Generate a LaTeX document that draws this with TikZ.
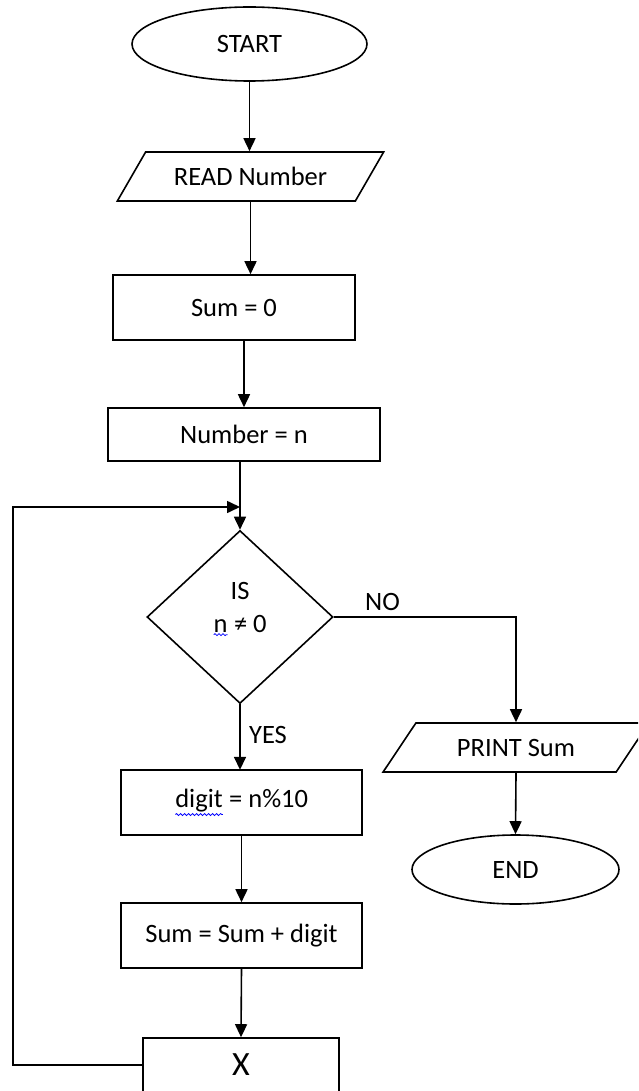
\documentclass[tikz,border=0pt]{standalone}
\usepackage{fontspec}
\setmainfont{Carlito}
\usetikzlibrary{shapes.geometric,arrows.meta,decorations.pathmorphing}

% wavy spell-check mark under a word
\newcommand\spellwave[1]{\tikz[baseline=(sw.base)]{\node[shape=rectangle,draw=none,minimum size=0pt,inner sep=0pt,outer sep=0pt] (sw) {#1};
  \draw[blue, line width=0.8pt, decorate, decoration={snake, amplitude=1pt, segment length=4pt}]
    ([yshift=-2.5pt]sw.south west) -- ([yshift=-2.5pt]sw.south east);}}

\begin{document}
\begin{tikzpicture}[x=1pt,y=-1pt,line width=1.6pt,
    term/.style={draw,ellipse,inner sep=0pt},
    io/.style={draw,trapezium,trapezium left angle=42,trapezium right angle=138,trapezium stretches=true,inner sep=0pt},
    proc/.style={draw,rectangle,inner sep=0pt},
    dec/.style={draw,diamond,inner sep=0pt},
    arr/.style={-{Triangle[length=13pt,width=12pt]}},
    font=\fontsize{26.5}{33}\selectfont]
                \clip (0,0) rectangle (638,1091);
                \node [term, minimum width=235pt, minimum height=74pt] (start) at (249.5,44) {START};
                \node [io, minimum width=267pt, minimum height=49pt] (read) at (250.5,176.5) {READ Number};
                \node [proc, minimum width=242pt, minimum height=65pt] (sum0) at (234,307.5) {Sum = 0};
                \node [proc, minimum width=272pt, minimum height=53pt] (number) at (244,434.5) {Number = n};
                \node [dec, minimum width=186pt, minimum height=173pt] (isnz) at (240,617) {};
                \node [align=center] (isnztext) at ([yshift=8pt]isnz.center) {IS\\\spellwave{n} ≠ 0};
                \node [io, minimum width=266pt, minimum height=49pt] (print) at (516,747.5) {PRINT Sum};
                \node [term, minimum width=207pt, minimum height=69pt] (stop) at (515.5,869.5) {END};
                \node [proc, minimum width=241pt, minimum height=65pt] (digit) at (241.5,802.5) {\spellwave{digit} = n\%10};
                \node [proc, minimum width=241pt, minimum height=65pt] (sumup) at (241.5,935.5) {Sum = Sum + digit};
                \node [proc, minimum width=196pt, minimum height=54pt, font=\fontsize{34}{40}\selectfont] (xbox) at (241,1065) {X};
                \node [anchor=west] (no) at (361,602) {NO};
                \node [anchor=west] (yes) at (245,735) {YES};
                \coordinate (loopl) at (13,507);
                \coordinate (loopin) at (240,507);
                \draw [arr] (start.south) -- (start.south |- read.north);
                \draw [arr] (read.south) -- (read.south |- sum0.north);
                \draw [arr] (number.north |- sum0.south) -- (number.north);
                \draw [arr] (isnz.north |- number.south) -- (isnz.north);
                \draw [arr] (xbox.west) -| (loopl) -- (loopin);
                \draw [arr] (isnz.east) -| (print.north);
                \draw [arr] (print.south) -- (stop.north);
                \draw [arr] (isnz.south) -- (isnz.south |- digit.north);
                \draw [arr] (digit.south) -- (sumup.north);
                \draw [arr] (sumup.south) -- (xbox.north);
            \end{tikzpicture}
\end{document}
